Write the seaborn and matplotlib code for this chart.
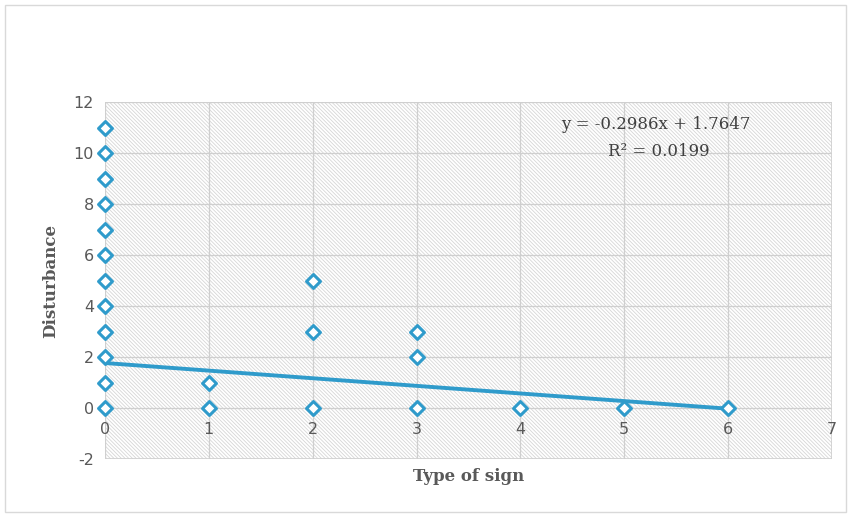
import numpy as np
import pandas as pd
import seaborn as sns
import matplotlib.pyplot as plt
from matplotlib.patches import Rectangle

# values
sign_type = [0, 0, 0, 0, 0, 0, 0, 0, 0, 0, 0, 0, 1, 1, 2, 2, 2, 3, 3, 3, 4, 5, 6]
disturbance = [0, 1, 2, 3, 4, 5, 6, 7, 8, 9, 10, 11, 0, 1, 0, 3, 5, 0, 2, 3, 0, 0, 0]
slope = -0.2986
intercept = 1.7647
r_squared = 0.0199
x_ticks = [0, 1, 2, 3, 4, 5, 6, 7]
y_ticks = [-2, 0, 2, 4, 6, 8, 10, 12]

df = pd.DataFrame({'sign': sign_type, 'dist': disturbance})
fit = pd.DataFrame({'sign': [0, 6]})
fit['dist'] = slope * fit['sign'] + intercept

sns.set_style('white')
plt.rcParams['hatch.linewidth'] = 0.6
plt.rcParams['axes.unicode_minus'] = False
blue = '#2f9bcb'

fig = plt.figure(figsize=(8.51, 5.15), dpi=100)
ax = fig.add_axes([0.1234, 0.1087, 0.8543, 0.6932])

# outer chart border
fig.patches.append(Rectangle((0.006, 0.006), 0.988, 0.985, transform=fig.transFigure,
                             fill=False, edgecolor='#d9d9d9', linewidth=1))

ax.set_xlim(0, 7)
ax.set_ylim(-2, 12)
# hatched plot area
ax.add_patch(Rectangle((0, -2), 7, 14, facecolor='white', edgecolor='#d6d6d6',
                       hatch='\\' * 9, linewidth=0, zorder=0))
ax.set_xticks(x_ticks)
ax.set_yticks(y_ticks)
ax.grid(True, color='#cfcfcf', linewidth=0.9, zorder=1)
ax.set_axisbelow(True)

sns.lineplot(data=fit, x='sign', y='dist', ax=ax, color=blue, linewidth=2.8, zorder=3)
sns.scatterplot(data=df, x='sign', y='dist', ax=ax, marker='D', s=50,
                facecolor='white', edgecolor=blue, linewidth=2.2, zorder=4, clip_on=False)

for s in ['top', 'left', 'right', 'bottom']:
    ax.spines[s].set_visible(False)
ax.axhline(-2, color='#d0d0d0', linewidth=1.2, zorder=1)
ax.axvline(7, color='#d0d0d0', linewidth=1.2, zorder=1)

ax.tick_params(axis='both', length=0, labelsize=11.5, labelcolor='#595959')
ax.tick_params(axis='y', pad=8)
# x labels sit just under the zero line, like the excel axis
ax.set_xticklabels([])
for t in x_ticks:
    ax.text(t, -0.55, str(t), ha='center', va='top', fontsize=11.5, color='#595959')

ax.set_xlabel('Type of sign', family='DejaVu Serif', fontweight='bold', fontsize=12,
              color='#595959', labelpad=3)
ax.set_ylabel('Disturbance', family='DejaVu Serif', fontweight='bold', fontsize=12,
              color='#595959', labelpad=10)

ax.text(5.3, 11.1, f'y = {slope}x + {intercept}', ha='center', va='center',
        family='DejaVu Serif', fontsize=12, color='#404040')
ax.text(5.33, 10.05, f'R² = {r_squared}', ha='center', va='center',
        family='DejaVu Serif', fontsize=12, color='#404040')

fig.savefig('out.png', dpi=100)
